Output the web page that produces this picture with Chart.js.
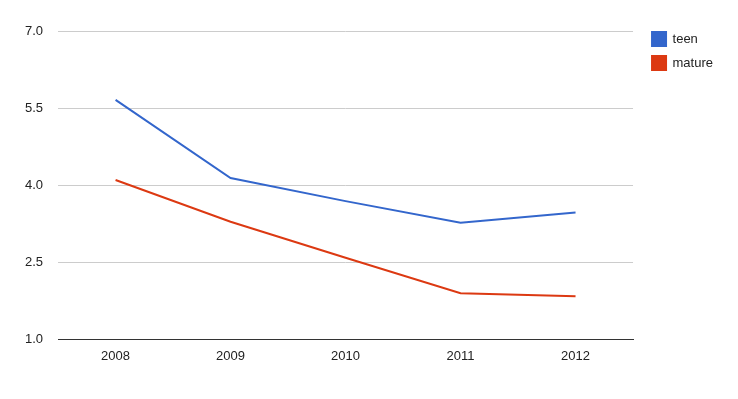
<!DOCTYPE html>
<html>
<head>
<meta charset="utf-8">
<script src="https://cdn.jsdelivr.net/npm/chart.js@4"></script>
<style>
  html, body { margin: 0; padding: 0; background: #fff; }
  #wrap { width: 738px; height: 399px; }
</style>
</head>
<body>
<div id="wrap"><canvas id="lineChart"></canvas></div>
<script>
const years = ['2008', '2009', '2010', '2011', '2012'];
const teen = [5.66, 4.14, 3.69, 3.27, 3.47];
const mature = [4.10, 3.29, 2.59, 1.90, 1.84];
const yTicks = [1.0, 2.5, 4.0, 5.5, 7.0];

Chart.defaults.font.family = 'Arial, "Liberation Sans", sans-serif';
Chart.defaults.font.size = 13;
Chart.defaults.color = '#222';

// nudge the legend to where the original puts it
const legendNudge = {
  id: 'legendNudge',
  afterLayout(chart) {
    chart.legend.left += 9;
    chart.legend.right += 9;
    chart.legend.top -= 9;
    chart.legend.bottom -= 9;
  }
};

const ctx = document.getElementById('lineChart');

new Chart(ctx, {
  type: 'line',
  data: {
    labels: years,
    datasets: [{
      label: 'teen',
      data: teen,
      borderWidth: 2,
      borderColor: '#3366cc',
      backgroundColor: '#3366cc',
      pointRadius: 0,
      tension: 0
    },
    {
      label: 'mature',
      data: mature,
      borderWidth: 2,
      borderColor: '#dc3912',
      backgroundColor: '#dc3912',
      pointRadius: 0,
      tension: 0
    }]
  },
  plugins: [legendNudge],
  options: {
    responsive: true,
    maintainAspectRatio: false,
    animation: false,
    layout: {
      padding: { left: 10, right: 24, top: 31, bottom: 26 }
    },
    plugins: {
      tooltip: { enabled: false },
      legend: {
        position: 'right',
        align: 'start',
        labels: {
          boxWidth: 14,
          boxHeight: 14,
          padding: 10,
          color: '#222',
          font: { size: 13 }
        }
      }
    },
    scales: {
      x: {
        offset: true,
        grid: { display: false, drawTicks: false },
        border: { display: true, color: '#333', width: 1 },
        ticks: { padding: 9, color: '#222' }
      },
      y: {
        min: 1,
        max: 7,
        afterBuildTicks: (axis) => {
          axis.ticks = yTicks.map(v => ({ value: v }));
        },
        grid: { color: '#cccccc', drawTicks: false },
        border: { display: false },
        ticks: {
          padding: 15,
          color: '#222',
          callback: (v) => Number(v).toFixed(1)
        }
      }
    }
  }
});
</script>
</body>
</html>
